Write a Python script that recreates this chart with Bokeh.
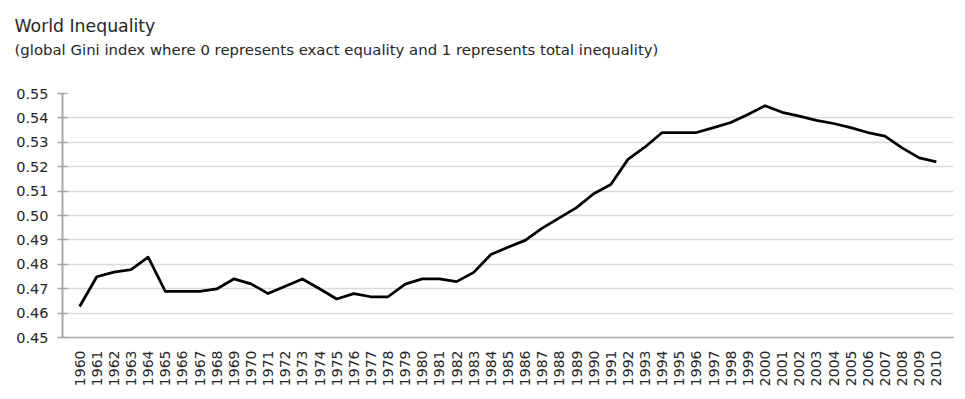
import math
from bokeh.plotting import figure
from bokeh.layouts import column
from bokeh.models import Range1d, FixedTicker, PrintfTickFormatter, Label, ColumnDataSource
from bokeh.embed import file_html
from bokeh.resources import INLINE

title_text = "World Inequality"
subtitle_text = "(global Gini index where 0 represents exact equality and 1 represents total inequality)"

years = list(range(1960, 2011))
gini = [
    0.4627, 0.4749, 0.4768, 0.4778, 0.4829, 0.4689, 0.4689, 0.4689, 0.4699, 0.4740,
    0.4720, 0.4680, 0.4710, 0.4740, 0.4700, 0.4658, 0.4680, 0.4667, 0.4667, 0.4719,
    0.4740, 0.4740, 0.4729, 0.4767, 0.4840, 0.4870, 0.4898, 0.4948, 0.4990, 0.5032,
    0.5089, 0.5127, 0.5230, 0.5281, 0.5340, 0.5340, 0.5340, 0.5360, 0.5381, 0.5414,
    0.5450, 0.5423, 0.5407, 0.5390, 0.5377, 0.5360, 0.5340, 0.5325, 0.5277, 0.5236,
    0.5220,
]
y_ticks = [0.45, 0.46, 0.47, 0.48, 0.49, 0.50, 0.51, 0.52, 0.53, 0.54, 0.55]

FONT = "DejaVu Sans"
TXT = "#262626"
W = 965
HEAD_H = 70

# ---- header figure holding the title and subtitle ----
head = figure(width=W, height=HEAD_H, output_backend="svg", toolbar_location=None,
              x_range=Range1d(0, W), y_range=Range1d(0, HEAD_H),
              x_axis_type=None, y_axis_type=None,
              min_border_left=0, min_border_right=0, min_border_top=0, min_border_bottom=0)
head.frame_align = False
head.outline_line_color = None
head.xgrid.visible = False
head.ygrid.visible = False
head.add_layout(Label(x=14, y=HEAD_H - 25, text=title_text,
                      text_font=FONT, text_font_size="17.3px", text_color=TXT,
                      text_baseline="alphabetic", text_align="left"))
head.add_layout(Label(x=14, y=HEAD_H - 49, text=subtitle_text,
                      text_font=FONT, text_font_size="14.9px", text_color=TXT,
                      text_baseline="alphabetic", text_align="left"))

# ---- main chart ----
p = figure(width=W, height=399 - HEAD_H, output_backend="svg", toolbar_location=None,
           x_range=Range1d(1959, 2011), y_range=Range1d(0.45, 0.55),
           min_border_left=62, min_border_right=12, min_border_top=93 - HEAD_H,
           min_border_bottom=62)
p.frame_align = False
p.outline_line_color = None
p.background_fill_color = "white"
p.border_fill_color = "white"

src = ColumnDataSource(dict(x=years, y=gini))
p.line("x", "y", source=src, line_color="black", line_width=2.75, line_join="round")

# x axis
xa = p.xaxis[0]
xa.ticker = FixedTicker(ticks=years)
xa.major_label_orientation = math.pi / 2
xa.major_label_text_font = FONT
xa.major_label_text_font_size = "14px"
xa.major_label_text_color = TXT
xa.major_tick_line_color = None
xa.minor_tick_line_color = None
xa.major_label_standoff = 7
xa.axis_line_color = "#a6a6a6"
xa.axis_line_width = 1.5

# y axis
ya = p.yaxis[0]
ya.ticker = FixedTicker(ticks=y_ticks)
ya.formatter = PrintfTickFormatter(format="%.2f")
ya.major_label_text_font = FONT
ya.major_label_text_font_size = "14.5px"
ya.major_label_text_color = TXT
ya.major_tick_in = 5
ya.major_tick_out = 5
ya.major_tick_line_color = "#a6a6a6"
ya.major_tick_line_width = 1.5
ya.minor_tick_line_color = None
ya.major_label_standoff = 9
ya.axis_line_color = "#a6a6a6"
ya.axis_line_width = 2

p.xgrid.grid_line_color = None
p.ygrid.ticker = FixedTicker(ticks=y_ticks)
p.ygrid.grid_line_color = "#d9d9d9"
p.ygrid.grid_line_width = 1.5

layout = column(head, p, spacing=0)
open("out.html", "w").write(file_html(layout, INLINE))
